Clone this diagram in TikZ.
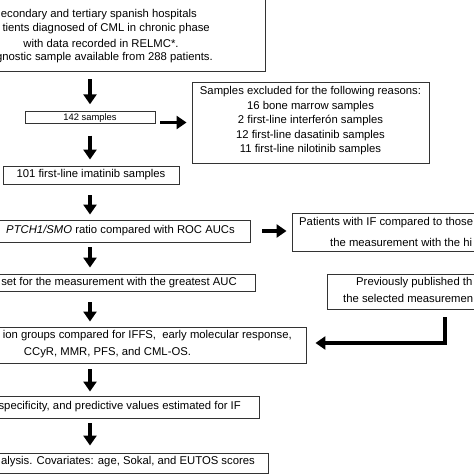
\documentclass[tikz,border=0pt]{standalone}
\usepackage{fontspec}
\setmainfont{Liberation Sans}
\usetikzlibrary{arrows.meta}

\begin{document}
\begin{tikzpicture}[x=1pt,y=-1pt,
  box/.style={draw=black!80,line width=0.9pt,inner sep=0pt},
  txt/.style={inner sep=0pt,font=\fontsize{11.3}{14.5}\selectfont,align=center},
  arr/.style={line width=3.4pt,-{Triangle[width=13pt,length=10pt]}}]
  \useasboundingbox (0,0) rectangle (474,474);
  \clip (0,0) rectangle (474,474);
  % boxes
  \node[box,minimum width=328pt,minimum height=72pt] (top) at (101,35) {};
  \node[box,minimum width=130pt,minimum height=11.5pt] (s142) at (90,117.5) {};
  \node[box,minimum width=237pt,minimum height=81pt] (excl) at (310.5,122.5) {};
  \node[box,minimum width=176pt,minimum height=18pt] (imat) at (91,175) {};
  \node[box,minimum width=350pt,minimum height=22pt] (ptch) at (75,231) {};
  \node[box,minimum width=268pt,minimum height=38pt] (pat) at (426,232) {};
  \node[box,minimum width=355pt,minimum height=17pt] (auc) at (77.5,282.5) {};
  \node[box,minimum width=233pt,minimum height=35pt] (prev) at (443.5,291.5) {};
  \node[box,minimum width=398pt,minimum height=36pt] (iffs) at (107,345) {};
  \node[box,minimum width=359pt,minimum height=22pt] (spec) at (79.5,407) {};
  \node[box,minimum width=368pt,minimum height=20pt] (last) at (84,463) {};
  % texts
  \node[txt,anchor=east] (top1) at (197,15) {econdary and tertiary spanish hospitals};
  \node[txt,anchor=east] (top2) at (210,29) {tients diagnosed of CML in chronic phase};
  \node[txt] (top3) at (101,43) {with data recorded in RELMC*.};
  \node[txt,anchor=east] (top4) at (213,58) {gnostic sample available from 288 patients.};
  \node[txt,font=\fontsize{9.4}{11}\selectfont] (s142t) at (90,118) {142 samples};
  \node[txt] (exclt) at (310.5,121) {Samples excluded for the following reasons:\\
    16 bone marrow samples\\2 first-line interferón samples\\
    12 first-line dasatinib samples\\11 first-line nilotinib samples};
  \node[txt] (imatt) at (imat) {101 first-line imatinib samples};
  \node[txt,anchor=east] (ptcht) at (235,231) {\textit{PTCH1/SMO} ratio compared with ROC AUCs};
  \node[txt,anchor=west] (pat1) at (299,223) {Patients with IF compared to those};
  \node[txt,anchor=west] (pat2) at (330,242) {the measurement with the hi};
  \node[txt,anchor=east] (auct) at (237,283) {set for the measurement with the greatest AUC};
  \node[txt,anchor=west] (prev1) at (356,283) {Previously published th};
  \node[txt,anchor=west] (prev2) at (343,298) {the selected measuremen};
  \node[txt,anchor=east] (iffs1) at (292,336) {ion groups compared for IFFS,~ early molecular response,};
  \node[txt] (iffs2) at (107.5,353) {CCyR, MMR, PFS, and CML-OS.};
  \node[txt,anchor=east] (spect) at (241,407) {specificity, and predictive values estimated for IF};
  \node[txt,anchor=east] (lastt) at (255,462) {alysis. Covariates: age, Sokal, and EUTOS scores};
  % arrows
  \coordinate (elb) at (445,343);
  \draw[arr,shorten <=8pt,shorten >=7pt] (top.south -| s142.north) -- (s142.north);
  \draw[arr,shorten <=5pt,shorten >=5pt] (s142.east |- excl.west) -- (excl.west);
  \draw[arr,shorten <=12pt,shorten >=6pt] (s142.south) -- (imat.north -| s142.south);
  \draw[arr,shorten <=11pt,shorten >=5pt] (imat.south -| s142.south) -- (ptch.north -| s142.south);
  \draw[arr,shorten <=12pt,shorten >=5pt] (ptch.east) -- (pat.west |- ptch.east);
  \draw[arr,shorten <=5pt,shorten >=6pt] (ptch.south -| s142.south) -- (auc.north -| s142.south);
  \draw[arr,shorten <=11pt,shorten >=5pt] (auc.south -| s142.south) -- (iffs.north -| s142.south);
  \draw[arr,shorten <=8pt,shorten >=9pt] (elb |- prev.south) -- (elb) -- (iffs.east |- elb);
  \draw[arr,shorten <=6pt,shorten >=4pt] (iffs.south -| s142.south) -- (spec.north -| s142.south);
  \draw[arr,shorten <=5pt,shorten >=7pt] (spec.south -| s142.south) -- (last.north -| s142.south);
\end{tikzpicture}
\end{document}
